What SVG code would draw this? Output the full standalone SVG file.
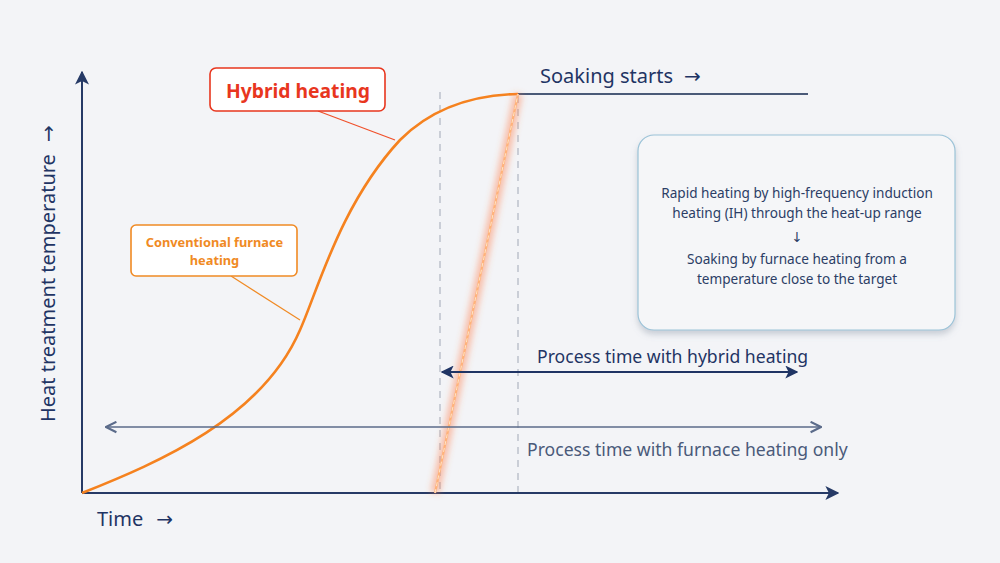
<svg xmlns="http://www.w3.org/2000/svg" width="1000" height="563" viewBox="0 0 1000 563">
<defs>
<style>
text{font-family:"Noto Sans","Open Sans","Liberation Sans",sans-serif;}
.arr{font-family:"DejaVu Sans","Liberation Sans",sans-serif;}
.navy{fill:#1f3464;}
.axis{stroke:#263a66;stroke-width:2;fill:none;}
.dash{stroke:#a8b0bd;stroke-width:1.1;stroke-dasharray:7,6;fill:none;}
.info{font-size:13.6px;fill:#2c3e66;text-anchor:middle;}
</style>
<marker id="ahn" viewBox="0 0 10 10" refX="9" refY="5" markerWidth="13" markerHeight="13" orient="auto-start-reverse" markerUnits="userSpaceOnUse">
<path d="M0,0 L10,5 L0,10 L2.5,5 Z" fill="#1f3464"/>
</marker>
<marker id="ahg" viewBox="0 0 10 10" refX="9" refY="5" markerWidth="13" markerHeight="13" orient="auto-start-reverse" markerUnits="userSpaceOnUse">
<path d="M1,1 L9,5 L1,9" fill="none" stroke="#5b6b8a" stroke-width="1.6"/>
</marker>
<marker id="ax" viewBox="0 0 10 10" refX="9" refY="5" markerWidth="14" markerHeight="14" orient="auto" markerUnits="userSpaceOnUse">
<path d="M0,0 L10,5 L0,10 L2.5,5 Z" fill="#263a66"/>
</marker>
<filter id="glow" x="-50%" y="-10%" width="200%" height="120%">
<feGaussianBlur stdDeviation="3"/>
</filter>
<filter id="shadow" x="-10%" y="-10%" width="120%" height="130%">
<feDropShadow dx="0" dy="4" stdDeviation="3" flood-color="#7a8699" flood-opacity="0.35"/>
</filter>
</defs>
<rect width="1000" height="563" fill="#f3f4f7"/>

<g id="connectors">
<line class="dash" x1="440" y1="92" x2="440" y2="493"/>
<line class="dash" x1="518" y1="96" x2="518" y2="493"/>
<line class="axis" x1="82" y1="493" x2="82" y2="72" marker-end="url(#ax)"/>
<line class="axis" x1="82" y1="493" x2="838" y2="493" marker-end="url(#ax)"/>
<line x1="518" y1="94" x2="808" y2="94" stroke="#4a5a78" stroke-width="1.8"/>
<path d="M82,493 C160,462 262,418 300,330 C318,290 340,205 400,140 C430,110 470,95 518,94" fill="none" stroke="#f5821f" stroke-width="2.6"/>
<line x1="318" y1="111" x2="395" y2="140" stroke="#f0502a" stroke-width="1.2"/>
<line x1="231" y1="276" x2="300" y2="320" stroke="#f08a24" stroke-width="1.2"/>
<line x1="435" y1="493" x2="518" y2="94" stroke="#ff7a45" stroke-width="9" stroke-opacity="0.45" filter="url(#glow)"/>
<line x1="435" y1="493" x2="518" y2="94" stroke="#ffb27a" stroke-width="2.2"/>
<line x1="435" y1="493" x2="518" y2="94" stroke="#fff0d8" stroke-width="0.8" stroke-dasharray="4,3"/>
<line x1="442" y1="372" x2="797" y2="372" stroke="#1f3464" stroke-width="2" marker-start="url(#ahn)" marker-end="url(#ahn)"/>
<line x1="106" y1="427" x2="821" y2="427" stroke="#5b6b8a" stroke-width="1.6" marker-start="url(#ahg)" marker-end="url(#ahg)"/>
</g>

<g id="axis-labels">
<text x="97" y="526" font-size="20" class="navy">Time<tspan class="arr" dx="13">→</tspan></text>
<text transform="translate(55,422) rotate(-90)" font-size="20" class="navy">Heat treatment temperature<tspan class="arr" dx="12">→</tspan></text>
</g>

<g id="soaking">
<text x="540" y="83" font-size="20" class="navy">Soaking starts<tspan class="arr" dx="11">→</tspan></text>
</g>

<g id="hybrid-label">
<rect x="210" y="68" width="175" height="43" rx="6" fill="#ffffff" stroke="#e8361e" stroke-width="1.6"/>
<text x="298" y="98" font-size="19.3" font-weight="bold" fill="#e8361e" text-anchor="middle">Hybrid heating</text>
</g>

<g id="conventional-label">
<rect x="131" y="225" width="166" height="51" rx="5" fill="#ffffff" stroke="#f08a24" stroke-width="1.6"/>
<text x="214.5" y="247" font-size="12.8" font-weight="bold" fill="#f08a24" text-anchor="middle">Conventional furnace</text>
<text x="214.5" y="265" font-size="12.8" font-weight="bold" fill="#f08a24" text-anchor="middle">heating</text>
</g>

<g id="info-box">
<rect x="638" y="135" width="317" height="195" rx="16" fill="#f5f6f8" stroke="#9cc3d8" stroke-width="1.2" filter="url(#shadow)"/>
<text class="info" x="797" y="198">Rapid heating by high-frequency induction</text>
<text class="info" x="797" y="218">heating (IH) through the heat-up range</text>
<text class="info arr" x="797" y="242" font-size="16">↓</text>
<text class="info" x="797" y="264">Soaking by furnace heating from a</text>
<text class="info" x="797" y="284">temperature close to the target</text>
</g>

<g id="hybrid-time">
<text x="537" y="363" font-size="17.6" class="navy">Process time with hybrid heating</text>
</g>
<g id="furnace-time">
<text x="527" y="456" font-size="17.6" fill="#4a5a7a">Process time with furnace heating only</text>
</g>
</svg>
